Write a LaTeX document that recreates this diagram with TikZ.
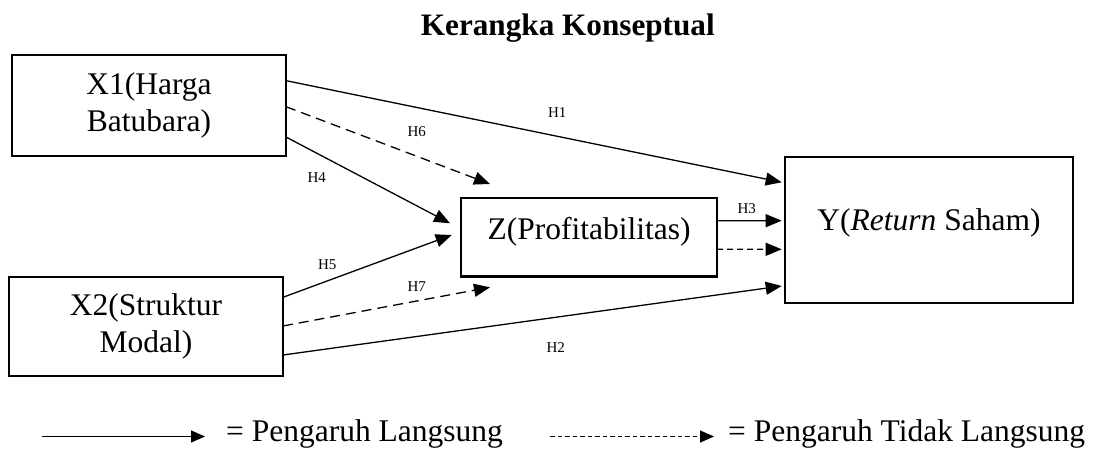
\documentclass[tikz,border=0pt]{standalone}
\usepackage{fontspec}
\setmainfont{Liberation Serif}
\usetikzlibrary{arrows.meta,calc}
\begin{document}
\begin{tikzpicture}[x=1pt,y=-1pt,
  box/.style={draw, line width=2.6pt, inner sep=0pt, outer sep=0pt, align=center,
    font=\fontsize{31.5}{37.3}\selectfont},
  lbl/.style={font=\fontsize{15}{17}\selectfont, inner sep=0pt},
  arr/.style={-{Triangle[length=16pt,width=13pt]}, line width=1.3pt},
  dsh/.style={dash pattern=on 10pt off 6pt},
  legtxt/.style={font=\fontsize{31.5}{37}\selectfont, anchor=base west, inner sep=0pt}]
\useasboundingbox (0,0) rectangle (1098,449);

\node[font=\bfseries\fontsize{31.2}{36}\selectfont, anchor=base west, inner sep=0pt] (title) at (420.7,36) {Kerangka Konseptual};

\node[box, minimum width=274pt, minimum height=101pt] (x1) at (149,105.5) {X1(Harga\\Batubara)};
\node[box, minimum width=274pt, minimum height=99pt] (x2) at (146,326.5) {X2(Struktur\\Modal)};
\node[box, minimum width=256pt, minimum height=78.5pt, text height=22pt, text depth=16.5pt] (z) at (589,237.25) {Z(Profitabilitas)};
\node[box, minimum width=288pt, minimum height=146pt, text height=22pt, text depth=20.6pt] (y) at (929,230) {Y(\textit{Return} Saham)};

\coordinate (t1) at (781.7,182.3);
\coordinate (t6) at (490,184);
\coordinate (t4) at (450,223.3);
\coordinate (t5) at (451.7,235);
\coordinate (t7) at (490,287.3);
\coordinate (t2) at (781.7,286);
\coordinate (t3) at (781.7,220.7);
\coordinate (t3d) at (781.7,249.3);

\draw[arr] ($(x1.north east)!0.254!(x1.south east)$) -- (t1);
\draw[arr,dsh] ($(x1.north east)!0.512!(x1.south east)$) -- (t6);
\draw[arr] ($(x1.north east)!0.812!(x1.south east)$) -- (t4);
\draw[arr] ($(x2.north east)!0.205!(x2.south east)$) -- (t5);
\draw[arr,dsh] ($(x2.north east)!0.495!(x2.south east)$) -- (t7);
\draw[arr] ($(x2.north east)!0.788!(x2.south east)$) -- (t2);
\draw[arr] ($(z.north east)!0.289!(z.south east)$) -- (t3);
\draw[arr,dash pattern=on 6pt off 4pt] ($(z.north east)!0.654!(z.south east)$) -- (t3d);

\node[lbl] (h1) at (557.3,112.3) {H1};
\node[lbl] (h6) at (416.7,131.7) {H6};
\node[lbl] (h4) at (316.7,177.7) {H4};
\node[lbl] (h5) at (327.3,265) {H5};
\node[lbl] (h7) at (416.7,286.7) {H7};
\node[lbl] (h2) at (555.7,347.3) {H2};
\node[lbl] (h3) at (746.7,208.3) {H3};

\coordinate (la1) at (42,436.5);
\coordinate (lb1) at (205,436.5);
\draw[arr, -{Triangle[length=14pt,width=12pt]}] (la1) -- (lb1);
\node[legtxt] (leg1) at (226,441.7) {= Pengaruh Langsung};
\coordinate (la2) at (550,436.5);
\coordinate (lb2) at (714,436.5);
\draw[arr, -{Triangle[length=14pt,width=12pt]}, dash pattern=on 4.5pt off 3pt] (la2) -- (lb2);
\node[legtxt] (leg2) at (728,441.7) {= Pengaruh Tidak Langsung};
\end{tikzpicture}
\end{document}
